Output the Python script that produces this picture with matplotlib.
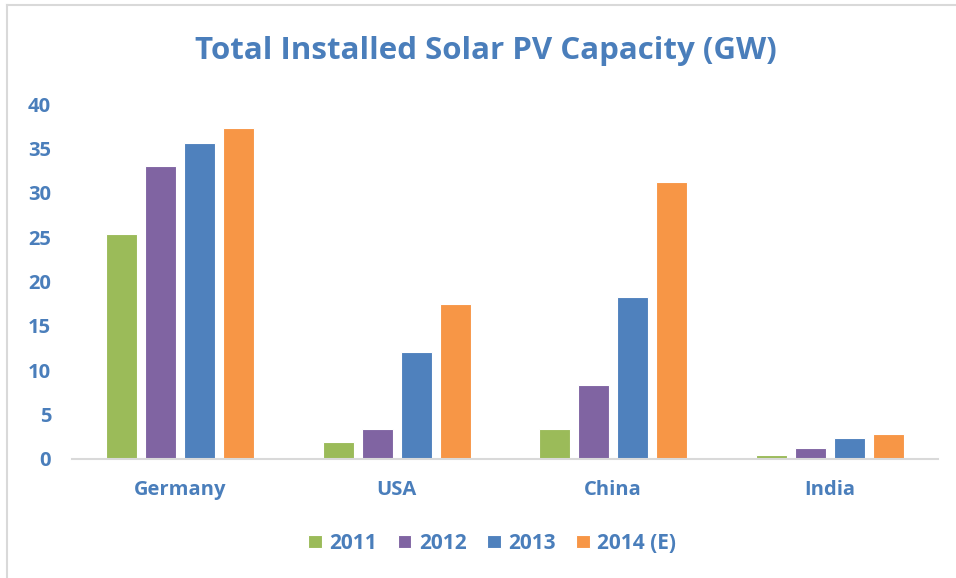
import numpy as np
import matplotlib.pyplot as plt
from matplotlib.lines import Line2D

# Data
countries = ['Germany', 'USA', 'China', 'India']
years = ['2011', '2012', '2013', '2014 (E)']
cap_2011 = [25.4, 1.9, 3.4, 0.45]
cap_2012 = [33.0, 3.4, 8.3, 1.2]
cap_2013 = [35.6, 12.1, 18.3, 2.35]
cap_2014 = [37.3, 17.5, 31.2, 2.8]
colors = ['#9BBB59', '#8064A2', '#4F81BD', '#F79646']
text_color = '#4A7EBB'

plt.rcParams['font.family'] = ['Open Sans', 'DejaVu Sans']

fig = plt.figure(figsize=(9.56, 5.78), dpi=100)
ax = fig.add_axes([0.0753, 0.2059, 0.9057, 0.6141])

series = [cap_2011, cap_2012, cap_2013, cap_2014]
x = np.arange(len(countries))
width = 0.143
step = 0.18
for i, vals in enumerate(series):
    offs = (i - 1.5) * step
    ax.bar(x + offs, vals, width, color=colors[i], label=years[i],
           edgecolor='white', linewidth=0.8, zorder=2)

ax.set_xlim(-0.5, len(countries) - 0.5)
ax.set_ylim(0, 40)
ax.set_yticks(range(0, 41, 5))
ax.set_xticks(x)
ax.set_xticklabels(countries)
for lab in ax.get_xticklabels() + ax.get_yticklabels():
    lab.set_fontweight('bold')
    lab.set_color(text_color)
    lab.set_fontsize(14.5)
ax.tick_params(axis='y', length=0, pad=15)
ax.tick_params(axis='x', length=0, pad=15)
for s in ['top', 'right', 'left']:
    ax.spines[s].set_visible(False)
ax.spines['bottom'].set_color('#D9D9D9')
ax.spines['bottom'].set_linewidth(1.5)

fig.text(0.508, 0.912, 'Total Installed Solar PV Capacity (GW)',
         ha='center', va='center', fontsize=22.5, fontweight='bold',
         color=text_color)

leg = fig.legend(loc='center', bbox_to_anchor=(0.515, 0.06), ncol=4,
                 frameon=False, handlelength=0.65, handleheight=0.65,
                 handletextpad=0.35, columnspacing=1.0,
                 prop={'weight': 'bold', 'size': 15})
for t in leg.get_texts():
    t.set_color(text_color)

# light chart border (top and left edges visible)
fig.add_artist(Line2D([0.0073, 1.0], [0.9913, 0.9913], color='#D9D9D9',
                      linewidth=1.5, transform=fig.transFigure))
fig.add_artist(Line2D([0.0073, 0.0073], [0.0, 0.9913], color='#D9D9D9',
                      linewidth=1.5, transform=fig.transFigure))

fig.savefig('out.png', dpi=100)
